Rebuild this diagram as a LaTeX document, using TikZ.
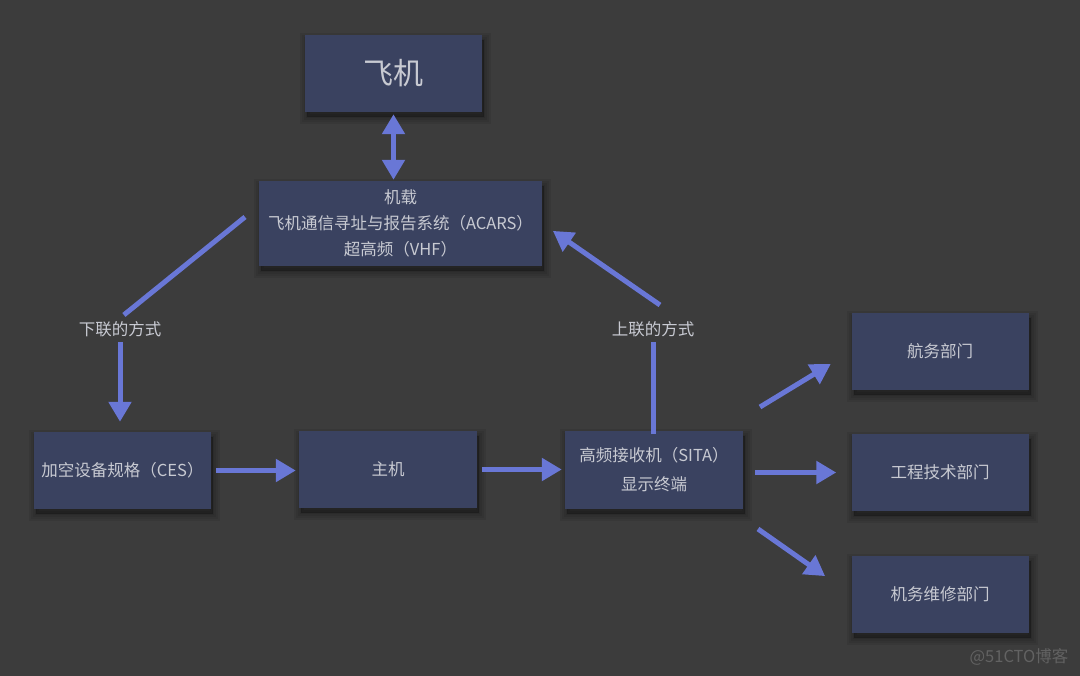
\documentclass[tikz,border=0pt]{standalone}
\usepackage{fontspec}
\setmainfont{Noto Sans CJK SC}
\usetikzlibrary{arrows.meta}
\definecolor{bg}{HTML}{3C3C3C}
\definecolor{boxc}{HTML}{3A4260}
\definecolor{arr}{HTML}{6977D6}
\definecolor{txt}{HTML}{C8CAD2}
\definecolor{wm}{HTML}{626262}
\begin{document}
\begin{tikzpicture}[x=1pt,y=-1pt,
  shlayer/.style={preaction={draw=black, fill=black, line width=#1, opacity=0.07,
    transform canvas={shift={(2pt,-5pt)}}}},
  box/.style={fill=boxc, draw=none, minimum width=177pt, minimum height=77pt, text=txt,
    font=\fontsize{16.5}{27}\selectfont, align=center, inner sep=2pt,
    shlayer=14pt, shlayer=10pt, shlayer=6pt, shlayer=2pt},
  conn/.style={draw=arr, line width=5pt},
  arrow/.style={conn, -{Triangle[length=20pt,width=22pt]}},
  lbl/.style={text=txt, font=\fontsize{16.5}{18}\selectfont, inner sep=3pt}]
\fill[bg] (0,0) rectangle (1080,676);
\useasboundingbox (0,0) rectangle (1080,676);

\node[box, font=\fontsize{30}{32}\selectfont] (plane) at (393.5,73.5) {飞机};
\node[box, minimum width=283pt, minimum height=85pt] (acars) at (400.5,223.5)
  {机载\\[-1pt]飞机通信寻址与报告系统（ACARS）\\[-1pt]超高频（VHF）};
\node[box] (ces) at (122.5,470.5) {加空设备规格（CES）};
\node[box, minimum width=178pt] (host) at (388,469.5) {主机};
\node[box, minimum width=178pt, minimum height=78pt] (sita) at (654,470) {高频接收机（SITA）\\[2pt]显示终端};
\node[box] (hang) at (940,351.5) {航务部门};
\node[box] (gc) at (940,472.5) {工程技术部门};
\node[box] (jw) at (940,594.5) {机务维修部门};

\node[lbl] (down) at (120,329) {下联的方式};
\node[lbl] (up) at (653,329) {上联的方式};

\coordinate (dl) at (245,217);
\coordinate (ul) at (660,305);
\coordinate (s1) at (760,407);
\coordinate (s3) at (758,529);

\draw[conn, {Triangle[length=20pt,width=22pt]}-{Triangle[length=20pt,width=22pt]}, shorten <=2pt, shorten >=1pt] (plane.south) -- (plane.south |- acars.north);
\draw[conn, shorten >=5pt] (dl) -- (down.north);
\draw[arrow, shorten <=2pt, shorten >=10pt] (down.south) -- (down.south |- ces.north);
\draw[arrow, shorten <=5pt, shorten >=3pt] (ces.east) -- (ces.east -| host.west);
\draw[arrow, shorten <=5pt, shorten >=3pt] (host.east) -- (host.east -| sita.west);
\draw[conn, shorten <=-3pt, shorten >=2pt] (sita.north -| up.south) -- (up.south);
\draw[arrow, shorten >=13pt] (ul) -- (acars.east);
\draw[arrow, shorten >=24pt] (s1) -- (hang.west);
\draw[arrow, shorten <=12pt, shorten >=15pt] (sita.east |- gc.west) -- (gc.west);
\draw[arrow, shorten >=32pt] (s3) -- (jw.west);

\node[text=wm, font=\fontsize{16.5}{18}\selectfont, inner sep=0pt] (wmk) at (1019,657) {@51CTO博客};
\end{tikzpicture}
\end{document}
